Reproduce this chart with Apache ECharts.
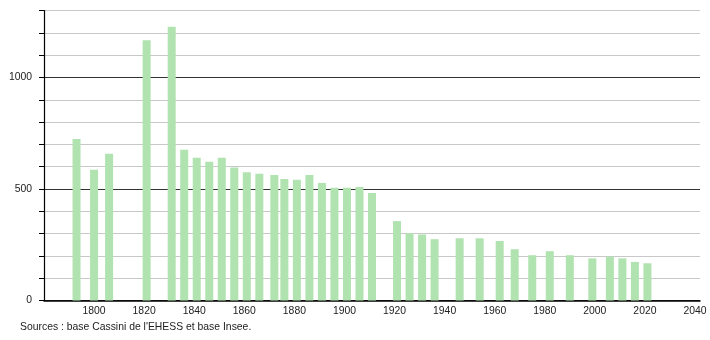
<!DOCTYPE html>
<html>
<head>
<meta charset="utf-8">
<script src="https://cdn.jsdelivr.net/npm/echarts@6/dist/echarts.min.js"></script>
<style>
html,body{margin:0;padding:0;background:#fff;}
#c{width:710px;height:340px;}
</style>
</head>
<body>
<div id="c"></div>
<script>
var years = [1793,1800,1806,1821,1831,1836,1841,1846,1851,1856,1861,1866,1872,1876,1881,1886,1891,1896,1901,1906,1911,1921,1926,1931,1936,1946,1954,1962,1968,1975,1982,1990,1999,2006,2011,2016,2021];
var population = [724,586,658,1167,1228,676,640,622,640,596,575,568,563,545,542,563,527,506,506,509,482,356,302,296,275,279,279,267,230,203,221,203,189,197,189,173,167];
var sourceText = "Sources : base Cassini de l'EHESS et base Insee.";

var data = years.map(function(y,i){return [y, population[i]];});
var chart = echarts.init(document.getElementById('c'), null, {renderer:'canvas'});
chart.setOption({
  animation:false,
  backgroundColor:'#fff',
  textStyle:{fontFamily:'Liberation Sans, Arial, sans-serif'},
  grid:{left:44,right:10,top:10.6,bottom:39.5,containLabel:false},
  xAxis:{
    type:'value', min:1780, max:2042, interval:20,
    axisLine:{show:true,lineStyle:{color:'#000',width:1.5}},
    axisTick:{show:false},
    splitLine:{show:false},
    axisLabel:{color:'#222',fontSize:10.4,margin:6,
      formatter:function(v){return (v%20===0 && v>=1800 && v<=2040)?String(v):'';}}
  },
  yAxis:{
    type:'value', min:0, max:1300, interval:100,
    axisLine:{show:true,lineStyle:{color:'#000',width:1.2}},
    axisTick:{show:true,length:5,lineStyle:{color:'#000'}},
    splitLine:{show:true,lineStyle:{color:['#333','#c8c8c8','#c8c8c8','#c8c8c8','#c8c8c8'],width:1}},
    axisLabel:{color:'#222',fontSize:10.4,margin:12,
      formatter:function(v){return v%500===0?String(v):'';}}
  },
  series:[{
    type:'bar', data:data, barWidth:8,
    itemStyle:{color:'#b1e3b1'}
  }],
  graphic:[{
    type:'text', left:20, top:322,
    style:{text:sourceText, fontSize:10.4, fill:'#222', fontFamily:'Liberation Sans, Arial, sans-serif'}
  }]
});
</script>
</body>
</html>
